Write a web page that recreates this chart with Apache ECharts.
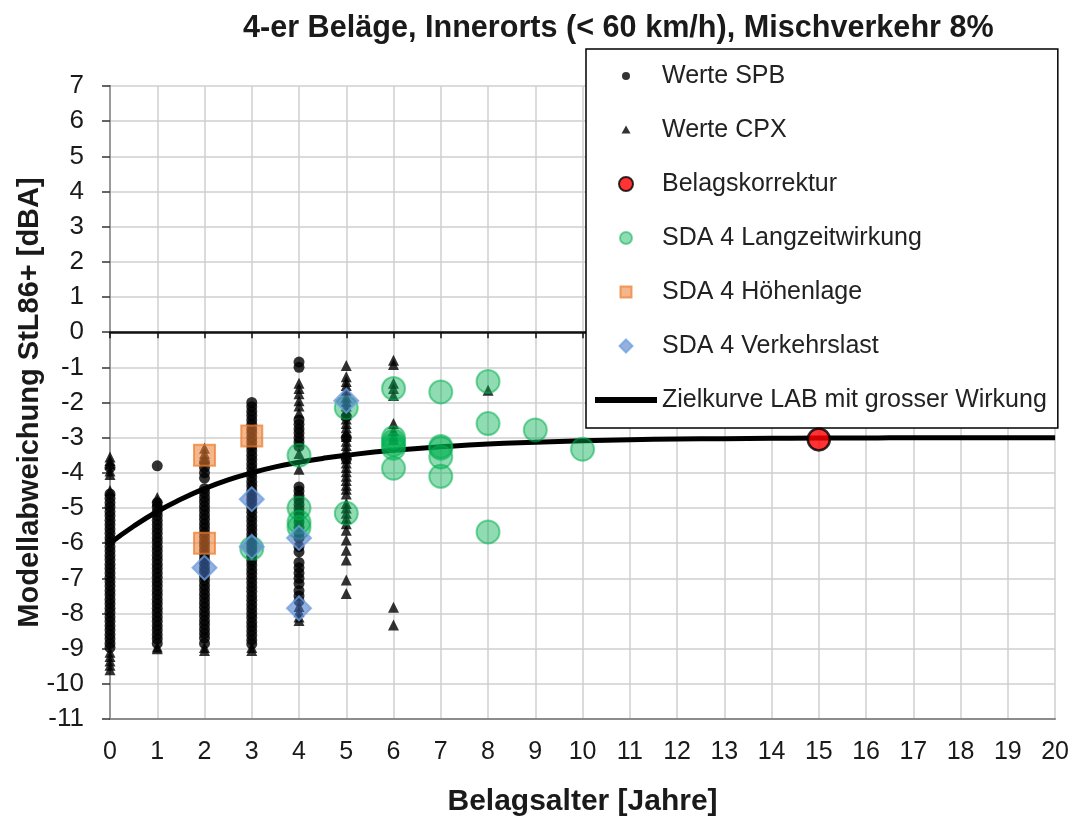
<!DOCTYPE html>
<html>
<head>
<meta charset="utf-8">
<title>4-er Beläge, Innerorts</title>
<script src="https://cdn.jsdelivr.net/npm/echarts@6/dist/echarts.min.js"></script>
<style>
  html, body { margin: 0; padding: 0; background: #fff; }
  #chart { width: 1072px; height: 823px; }
</style>
</head>
<body>
<div id="chart"></div>
<script>
// Werte SPB (Kreise), je Belagsalter eine Spalte
const spbYears = [0, 1, 2, 3, 4, 5]
const spbValues = [
  [-3.85, -4.6, -4.72, -4.85, -4.97, -5.1, -5.22, -5.35, -5.47, -5.6, -5.72, -5.85, -5.97, -6.1, -6.22, -6.35, -6.47, -6.6, -6.72, -6.85, -6.97, -7.1, -7.22, -7.35, -7.47, -7.6, -7.72, -7.85, -7.97, -8.1, -8.22, -8.35, -8.47, -8.6, -8.72, -8.85, -8.97],
  [-3.8, -4.85, -4.97, -5.1, -5.22, -5.35, -5.47, -5.6, -5.72, -5.85, -5.97, -6.1, -6.22, -6.35, -6.47, -6.6, -6.72, -6.85, -6.97, -7.1, -7.22, -7.35, -7.47, -7.6, -7.72, -7.85, -7.97, -8.1, -8.22, -8.35, -8.47, -8.6, -8.72, -8.85],
  [-3.7, -3.85, -4.0, -4.15, -4.45, -4.57, -4.7, -4.82, -4.95, -5.07, -5.2, -5.32, -5.45, -5.57, -5.7, -5.82, -5.95, -6.07, -6.2, -6.32, -6.45, -6.57, -6.7, -6.82, -6.95, -7.07, -7.2, -7.32, -7.45, -7.57, -7.7, -7.82, -7.95, -8.07, -8.2, -8.32, -8.45, -8.57, -8.7, -8.85],
  [-2.0, -2.12, -2.25, -2.37, -2.5, -2.62, -2.75, -2.87, -3.0, -3.12, -3.25, -3.37, -3.5, -3.62, -3.75, -3.87, -4.0, -4.12, -4.25, -4.37, -4.5, -4.62, -4.75, -4.87, -5.0, -5.12, -5.25, -5.37, -5.5, -5.62, -5.75, -5.87, -6.0, -6.12, -6.25, -6.37, -6.5, -6.62, -6.75, -6.87, -7.0, -7.12, -7.25, -7.37, -7.5, -7.62, -7.75, -7.87, -8.0, -8.12, -8.25, -8.37, -8.5, -8.62, -8.75, -8.87],
  [-0.85, -1.0, -2.5, -2.62, -2.75, -2.87, -3.0, -3.12, -3.25, -4.4, -4.52, -4.65, -4.77, -4.9, -5.02, -5.15, -5.27, -5.4, -5.55, -5.7, -5.85, -6.1, -6.25, -6.55, -6.7, -6.85, -7.0, -7.15, -7.35, -7.5, -7.65],
  [-2.4, -3.0, -3.6]
]

// Werte CPX (Dreiecke)
const cpxYears = [0, 1, 2, 3, 4, 5, 6, 8]
const cpxValues = [
  [-3.55, -3.65, -3.75, -3.95, -4.05, -4.5, -9.1, -9.22, -9.35, -9.47, -9.6],
  [-4.7, -4.8, -8.95, -9.0],
  [-3.3, -3.45, -3.6, -8.97, -9.05],
  [-8.97, -9.05],
  [-1.45, -1.6, -1.75, -1.95, -2.1, -2.3, -3.45, -3.9, -7.8, -7.95, -8.1, -8.2],
  [-0.95, -1.27, -1.4, -1.52, -1.65, -1.85, -1.97, -2.1, -2.22, -2.35, -2.47, -2.6, -2.72, -2.85, -2.97, -3.1, -3.22, -3.35, -3.47, -3.6, -3.72, -3.85, -3.97, -4.1, -4.22, -4.35, -4.47, -4.6, -4.87, -5.0, -5.15, -5.3, -5.45, -5.63, -5.91, -6.2, -6.48, -7.05, -7.43],
  [-0.8, -0.92, -1.45, -1.6, -1.8, -2.6, -2.8, -2.95, -3.05, -7.82, -8.33],
  [-1.65]
]

// Belagskorrektur
const korrekturX = [15]
const korrekturY = [-3.05]

// SDA 4 Langzeitwirkung
const langzeitX = [3, 4, 4, 4, 4, 5, 5, 6, 6, 6, 6, 6, 6, 7, 7, 7, 7, 7, 8, 8, 8, 9, 10]
const langzeitY = [-6.15, -3.5, -5.0, -5.4, -5.55, -2.15, -5.15, -1.6, -3.0, -3.1, -3.2, -3.3, -3.87, -1.7, -3.25, -3.3, -3.55, -4.1, -1.4, -2.6, -5.68, -2.78, -3.33]

// SDA 4 Höhenlage
const hoehenX = [2, 2, 3]
const hoehenY = [-3.5, -6.0, -2.95]

// SDA 4 Verkehrslast
const verkehrX = [2, 3, 3, 4, 4, 5]
const verkehrY = [-6.7, -4.75, -6.1, -5.85, -7.85, -1.95]

// Zielkurve LAB mit grosser Wirkung
const kurveX = [0, 0.5, 1, 1.5, 2, 2.5, 3, 3.5, 4, 4.5, 5, 6, 7, 8, 9, 10, 11, 12, 13, 14, 15, 16, 17, 18, 19, 20]
const kurveY = [-6.0, -5.52, -5.1, -4.75, -4.45, -4.2, -4.0, -3.83, -3.7, -3.59, -3.5, -3.36, -3.26, -3.18, -3.13, -3.09, -3.06, -3.04, -3.03, -3.02, -3.01, -3.01, -3.0, -3.0, -3.0, -3.0]

const FONT = 'Liberation Sans, Arial, sans-serif'

function columns (years, values) {
  const out = []
  years.forEach((x, i) => {
    values[i].forEach(y => out.push([x, y]))
  })
  return out
}
function pairs (xs, ys) {
  return xs.map((x, i) => [x, ys[i]])
}

const chart = echarts.init(document.getElementById('chart'))
const option = {
  animation: false,
  backgroundColor: '#fff',
  title: {
    text: '4-er Beläge, Innerorts (< 60 km/h), Mischverkehr 8%',
    left: 243,
    top: 13,
    padding: 0,
    textStyle: { fontFamily: FONT, fontSize: 30.6, fontWeight: 'bold', color: '#1a1a1a' },
  },
  grid: { left: 110, right: 15, top: 86, bottom: 104 },
  legend: {
    orient: 'vertical',
    left: 586,
    top: 49,
    itemWidth: 62,
    itemHeight: 14,
    itemGap: 28,
    padding: [14, 11, 15, 6],
    backgroundColor: '#fff',
    borderColor: '#000',
    borderWidth: 1.5,
    textStyle: { fontFamily: FONT, fontSize: 25, color: '#222', lineHeight: 26 },
    data: [
      { name: 'Werte SPB', icon: 'path://M0,0M14,14M3,7a4,4 0 1,0 8,0a4,4 0 1,0 -8,0z' },
      { name: 'Werte CPX', icon: 'path://M0,0M14,14M7,2.5L11.5,10.5L2.5,10.5z' },
      { name: 'Belagskorrektur', icon: 'circle' },
      { name: 'SDA 4 Langzeitwirkung', icon: 'path://M0,0M14,14M1,7a6,6 0 1,0 12,0a6,6 0 1,0 -12,0z' },
      { name: 'SDA 4 Höhenlage', icon: 'path://M0,0M14,14M1.5,1.5L12.5,1.5L12.5,12.5L1.5,12.5z' },
      { name: 'SDA 4 Verkehrslast', icon: 'path://M0,0M14,14M7,0.5L13.5,7L7,13.5L0.5,7z' },
      { name: 'Zielkurve LAB mit grosser Wirkung', itemStyle: { opacity: 0 }, lineStyle: { width: 6 } },
    ],
  },
  xAxis: [
    {
      type: 'value',
      min: 0,
      max: 20,
      interval: 1,
      axisLine: { onZero: false, lineStyle: { color: '#8c8c8c', width: 2 } },
      axisTick: { show: false },
      axisLabel: { fontFamily: FONT, fontSize: 25, color: '#1a1a1a', margin: 21 },
      splitLine: { lineStyle: { color: '#cfcfcf', width: 1.5 } },
      name: 'Belagsalter [Jahre]',
      nameLocation: 'middle',
      nameGap: 68,
      nameTextStyle: { fontFamily: FONT, fontSize: 30, fontWeight: 'bold', color: '#1a1a1a' },
    },
    {
      // Achsenlinie bei 0 mit Strichen
      type: 'value',
      min: 0,
      max: 20,
      interval: 1,
      position: 'bottom',
      axisLine: { onZero: true, lineStyle: { color: '#111', width: 2.5 } },
      axisTick: { show: true, length: 6, lineStyle: { color: '#111', width: 1.5 } },
      axisLabel: { show: false },
      splitLine: { show: false },
    },
  ],
  yAxis: [
    {
      type: 'value',
      min: -11,
      max: 7,
      interval: 1,
      axisLine: { show: true, lineStyle: { color: '#333', width: 2 } },
      axisTick: { show: true, length: 8, lineStyle: { color: '#333', width: 1.5 } },
      axisLabel: { fontFamily: FONT, fontSize: 26, color: '#1a1a1a', margin: 26 },
      splitLine: { lineStyle: { color: '#cfcfcf', width: 1.5 } },
      name: 'Modellabweichung StL86+ [dBA]',
      nameLocation: 'middle',
      nameGap: 66,
      nameMoveOverlap: false,
      nameTextStyle: { fontFamily: FONT, fontSize: 29, fontWeight: 'bold', color: '#1a1a1a' },
    },
    {
      // rechter Rahmen
      type: 'value',
      min: -11,
      max: 7,
      interval: 1,
      position: 'right',
      axisLine: { show: true, lineStyle: { color: '#9a9a9a', width: 2 } },
      axisTick: { show: false },
      axisLabel: { show: false },
      splitLine: { show: false },
    },
  ],
  series: [
    {
      name: 'Werte SPB',
      type: 'scatter',
      clip: false,
      symbol: 'circle',
      symbolSize: 11,
      itemStyle: { color: '#000' },
      data: columns(spbYears, spbValues),
      z: 2,
    },
    {
      name: 'Werte CPX',
      type: 'scatter',
      clip: false,
      symbol: 'triangle',
      symbolSize: 11,
      itemStyle: { color: '#000' },
      data: columns(cpxYears, cpxValues),
      z: 2,
    },
    {
      name: 'Zielkurve LAB mit grosser Wirkung',
      type: 'line',
      clip: false,
      smooth: 0.5,
      symbol: 'none',
      lineStyle: { color: '#000', width: 5 },
      itemStyle: { color: '#000' },
      data: pairs(kurveX, kurveY),
      z: 3,
    },
    {
      name: 'Belagskorrektur',
      type: 'scatter',
      clip: false,
      symbol: 'circle',
      symbolSize: 22,
      itemStyle: { color: '#ff0000', borderColor: '#000', borderWidth: 2.5 },
      data: pairs(korrekturX, korrekturY),
      z: 4,
    },
    {
      name: 'SDA 4 Langzeitwirkung',
      type: 'scatter',
      clip: false,
      symbol: 'circle',
      symbolSize: 23,
      itemStyle: { color: 'rgba(0,176,80,0.55)', borderColor: 'rgba(0,176,80,0.65)', borderWidth: 2 },
      data: pairs(langzeitX, langzeitY),
      z: 4,
    },
    {
      name: 'SDA 4 Höhenlage',
      type: 'scatter',
      clip: false,
      symbol: 'rect',
      symbolSize: 21,
      itemStyle: { color: 'rgba(237,125,49,0.7)', borderColor: 'rgba(237,125,49,0.9)', borderWidth: 2 },
      data: pairs(hoehenX, hoehenY),
      z: 4,
    },
    {
      name: 'SDA 4 Verkehrslast',
      type: 'scatter',
      clip: false,
      symbol: 'diamond',
      symbolSize: 24,
      itemStyle: { color: 'rgba(68,114,196,0.7)', borderColor: 'rgba(110,160,225,0.95)', borderWidth: 2 },
      data: pairs(verkehrX, verkehrY),
      z: 4,
    },
  ],
}
chart.setOption(option)
</script>
</body>
</html>
